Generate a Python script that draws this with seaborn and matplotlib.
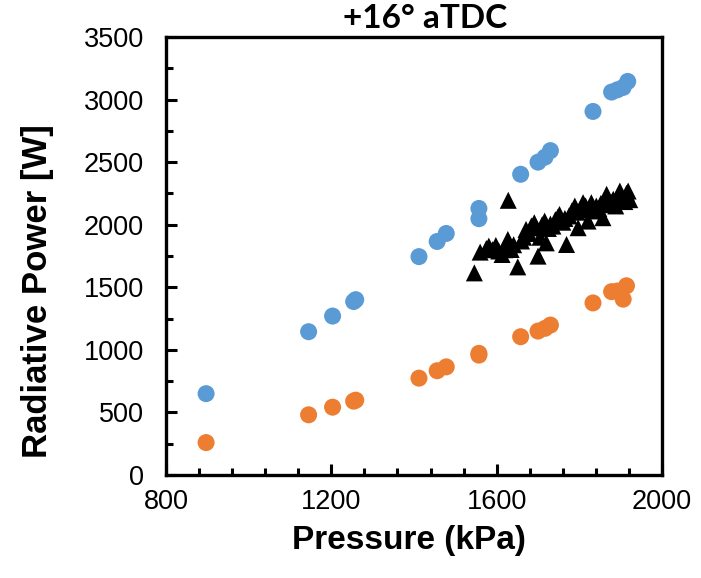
import matplotlib
matplotlib.use("Agg")
import matplotlib.pyplot as plt
import seaborn as sns
import pandas as pd
from matplotlib.ticker import MultipleLocator

# Blue circles
blue_x = [897, 1145, 1203, 1254, 1259, 1412, 1456, 1478, 1557, 1557, 1658, 1700, 1717, 1730,
          1833, 1878, 1892, 1906, 1917]
blue_y = [650, 1145, 1270, 1386, 1401, 1745, 1866, 1930, 2130, 2048, 2403, 2500, 2540, 2592,
          2905, 3060, 3078, 3097, 3145]

# Orange circles
orange_x = [897, 1145, 1203, 1254, 1259, 1412, 1456, 1478, 1557, 1557, 1658, 1700, 1717, 1730,
            1833, 1878, 1892, 1906, 1914]
orange_y = [259, 481, 542, 590, 598, 774, 833, 864, 958, 972, 1105, 1150, 1172, 1198,
            1375, 1465, 1470, 1405, 1512]

# Black triangles
tri_x = [1546, 1560, 1575, 1581, 1590, 1598, 1605, 1613, 1620, 1627, 1628, 1635, 1641, 1651,
         1660, 1665, 1671, 1678, 1684, 1691, 1695, 1700, 1705, 1710, 1716, 1720, 1725, 1730,
         1736, 1742, 1748, 1752, 1760, 1765, 1769, 1775, 1782, 1789, 1795, 1797, 1803, 1809,
         1815, 1821, 1826, 1829, 1835, 1841, 1847, 1852, 1857, 1862, 1866, 1872, 1877, 1882,
         1888, 1893, 1898, 1904, 1910, 1914, 1918, 1922]
tri_y = [1615, 1781, 1810, 1829, 1800, 1834, 1790, 1762, 1800, 1882, 2195, 1802, 1840, 1663,
         1870, 1900, 1962, 1930, 1990, 2016, 1975, 1749, 1900, 2000, 2029, 1855, 1970, 2005,
         1989, 2040, 2060, 2082, 2020, 2050, 1842, 2070, 2110, 2149, 2100, 1976, 2130, 2176,
         2150, 2029, 2120, 2176, 2110, 2149, 2130, 2170, 2056, 2190, 2243, 2160, 2180, 2203,
         2150, 2230, 2269, 2200, 2185, 2250, 2269, 2200]

xticks = [800, 1200, 1600, 2000]
yticks = [0, 500, 1000, 1500, 2000, 2500, 3000, 3500]

sns.set_style("ticks")
plt.rcParams['font.family'] = ['Liberation Sans', 'DejaVu Sans']
plt.rcParams['text.color'] = 'black'
plt.rcParams['axes.labelcolor'] = 'black'
plt.rcParams['xtick.color'] = 'black'
plt.rcParams['ytick.color'] = 'black'

fig = plt.figure(figsize=(7.01, 5.78), dpi=100)
ax = fig.add_axes([0.2368, 0.1782, 0.7076, 0.7578])

df_blue = pd.DataFrame({"x": blue_x, "y": blue_y})
df_orange = pd.DataFrame({"x": orange_x, "y": orange_y})
df_tri = pd.DataFrame({"x": tri_x, "y": tri_y})

sns.scatterplot(data=df_blue, x="x", y="y", ax=ax, color="#5B9BD5", s=150,
                marker="o", edgecolor="none", linewidth=0, zorder=3)
sns.scatterplot(data=df_orange, x="x", y="y", ax=ax, color="#ED7D31", s=150,
                marker="o", edgecolor="none", linewidth=0, zorder=3)
sns.scatterplot(data=df_tri, x="x", y="y", ax=ax, color="black", s=150,
                marker="^", edgecolor="none", linewidth=0, zorder=4)

ax.set_xlim(800, 2000)
ax.set_ylim(0, 3500)
ax.set_xticks(xticks)
ax.set_yticks(yticks)
ax.xaxis.set_minor_locator(MultipleLocator(80))
ax.yaxis.set_minor_locator(MultipleLocator(250))
ax.tick_params(axis='both', which='major', direction='in', length=8, width=2.2,
               labelsize=19.5, colors='black', top=False, right=False)
ax.tick_params(axis='x', which='major', pad=10)
ax.tick_params(axis='y', which='major', pad=16)
ax.tick_params(axis='both', which='minor', direction='in', length=5, width=2.2,
               top=False, right=False)
for sp in ax.spines.values():
    sp.set_visible(True)
    sp.set_linewidth(2.4)
    sp.set_color('black')

ax.set_xlabel("Pressure (kPa)", fontsize=24, fontweight='bold')
ax.set_ylabel("Radiative Power [W]", fontsize=25, fontweight='bold')
ax.xaxis.set_label_coords(0.49, -0.115)
ax.yaxis.set_label_coords(-0.225, 0.42)

fig.text(425 / 701, 1 - 28 / 578, "+16° aTDC", fontsize=24, fontweight='bold',
         ha='center', va='baseline', family=['Lato', 'DejaVu Sans'])

fig.savefig("out.png", dpi=100)
